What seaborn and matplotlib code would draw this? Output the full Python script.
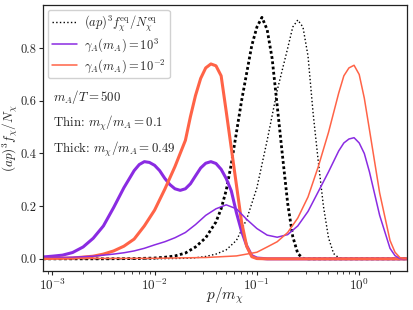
import numpy as np
import matplotlib
matplotlib.use("Agg")
import matplotlib.pyplot as plt
import seaborn as sns

# ---- data (p/m_chi, (ap)^3 f/N) ----
x_eq_thick = [0.00081, 0.00316, 0.00631, 0.01, 0.0126, 0.0158, 0.02, 0.0251, 0.0316, 0.0398, 0.0447,
              0.0501, 0.0562, 0.0631, 0.0708, 0.0794, 0.0891, 0.1, 0.112, 0.126, 0.141, 0.158,
              0.178, 0.2, 0.224, 0.251, 0.282, 0.316, 2.92]
y_eq_thick = [0.0, 0.0, 0.001, 0.003, 0.006, 0.011, 0.022, 0.045, 0.08, 0.14, 0.19,
              0.26, 0.36, 0.48, 0.60, 0.705, 0.81, 0.88, 0.917, 0.87, 0.76, 0.58,
              0.39, 0.21, 0.085, 0.02, 0.002, 0.0, 0.0]

x_eq_thin = [0.00081, 0.01, 0.02, 0.0251, 0.0316, 0.0398, 0.0501, 0.0631, 0.0794, 0.1, 0.126,
             0.158, 0.2, 0.224, 0.251, 0.282, 0.316, 0.355, 0.398, 0.447, 0.501, 0.562,
             0.631, 0.708, 2.92]
y_eq_thin = [0.0, 0.0, 0.002, 0.004, 0.009, 0.018, 0.034, 0.07, 0.15, 0.27, 0.45,
             0.64, 0.80, 0.88, 0.907, 0.88, 0.77, 0.55, 0.37, 0.20, 0.08, 0.02,
             0.004, 0.0, 0.0]

x_pur_thick = [0.00081, 0.001, 0.00126, 0.00158, 0.002, 0.00251, 0.00316, 0.00398, 0.00501,
               0.00631, 0.00708, 0.00794, 0.0089, 0.01, 0.0112, 0.0126, 0.0141, 0.0158,
               0.0178, 0.02, 0.0224, 0.0251, 0.0282, 0.0316, 0.0355, 0.0398, 0.0447, 0.0501,
               0.0562, 0.0631, 0.0708, 0.0794, 0.0891, 0.1, 0.126, 2.92]
y_pur_thick = [0.007, 0.010, 0.014, 0.024, 0.045, 0.078, 0.125, 0.195, 0.27,
               0.335, 0.358, 0.369, 0.366, 0.355, 0.335, 0.305, 0.282, 0.266,
               0.260, 0.266, 0.285, 0.315, 0.345, 0.363, 0.369, 0.362, 0.340, 0.305,
               0.258, 0.175, 0.105, 0.05, 0.012, 0.003, 0.0, 0.0]

x_red_thick = [0.00081, 0.00158, 0.00251, 0.00316, 0.00398, 0.00501, 0.00631, 0.00794, 0.01,
               0.0126, 0.0158, 0.02, 0.0224, 0.0251, 0.0282, 0.0316, 0.0355, 0.0398, 0.0447,
               0.0501, 0.0562, 0.0631, 0.0708, 0.0794, 0.0891, 0.1, 0.126, 2.92]
y_red_thick = [0.001, 0.003, 0.010, 0.018, 0.030, 0.048, 0.075, 0.125, 0.185,
               0.265, 0.35, 0.45, 0.54, 0.62, 0.685, 0.725, 0.740, 0.733, 0.695,
               0.56, 0.42, 0.28, 0.14, 0.048, 0.008, 0.001, 0.0, 0.0]

x_pur_thin = [0.00081, 0.00158, 0.00251, 0.00398, 0.00501, 0.00631, 0.00794, 0.01, 0.0126,
              0.0158, 0.02, 0.0251, 0.0316, 0.0398, 0.0501, 0.0631, 0.0794, 0.1, 0.126,
              0.158, 0.2, 0.251, 0.316, 0.398, 0.501, 0.631, 0.708, 0.794, 0.891, 1.0,
              1.122, 1.26, 1.585, 2.0, 2.239, 2.51, 2.92]
y_pur_thin = [0.003, 0.006, 0.010, 0.018, 0.023, 0.030, 0.040, 0.053, 0.065,
              0.08, 0.10, 0.13, 0.165, 0.19, 0.205, 0.19, 0.15, 0.115, 0.09,
              0.082, 0.092, 0.125, 0.18, 0.255, 0.33, 0.41, 0.44, 0.455, 0.46, 0.44,
              0.40, 0.33, 0.165, 0.04, 0.012, 0.001, 0.0]

x_red_thin = [0.00081, 0.01, 0.0316, 0.0631, 0.1, 0.126, 0.158, 0.2, 0.251, 0.316, 0.398,
              0.501, 0.631, 0.708, 0.794, 0.891, 1.0, 1.122, 1.26, 1.585, 2.0, 2.239,
              2.51, 2.92]
y_red_thin = [0.001, 0.002, 0.005, 0.011, 0.025, 0.045, 0.065, 0.10, 0.155, 0.235, 0.35,
              0.48, 0.63, 0.695, 0.725, 0.735, 0.70, 0.61, 0.49, 0.25, 0.07, 0.025,
              0.004, 0.0]

labels = [r"$(ap)^3 f_\chi^{\rm eq}/N_\chi^{\rm eq}$",
          r"$\gamma_A(m_A) = 10^3$",
          r"$\gamma_A(m_A) = 10^{-2}$"]
notes = [r"$m_A/T = 500$",
         r"Thin: $m_\chi/m_A = 0.1$",
         r"Thick: $m_\chi/m_A = 0.49$"]

# ---- style ----
sns.set_style("ticks")
plt.rcParams["font.family"] = ["cmr10", "DejaVu Serif"]
plt.rcParams["mathtext.fontset"] = "cm"
plt.rcParams["axes.formatter.use_mathtext"] = True
plt.rcParams["axes.unicode_minus"] = False

PURPLE = "#8a2be2"
RED = "#ff6347"

fig = plt.figure(figsize=(4.13, 3.10), dpi=100)
ax = fig.add_axes([0.104, 0.126, 0.881, 0.858])

sns.lineplot(x=x_eq_thick, y=y_eq_thick, ax=ax, color="black", lw=2.0,
             linestyle=(0, (1, 0.9)), estimator=None, sort=False)
sns.lineplot(x=x_eq_thin, y=y_eq_thin, ax=ax, color="black", lw=1.0,
             linestyle=":", estimator=None, sort=False)
sns.lineplot(x=x_pur_thick, y=y_pur_thick, ax=ax, color=PURPLE, lw=2.2,
             estimator=None, sort=False)
sns.lineplot(x=x_red_thick, y=y_red_thick, ax=ax, color=RED, lw=2.2,
             estimator=None, sort=False)
sns.lineplot(x=x_pur_thin, y=y_pur_thin, ax=ax, color=PURPLE, lw=1.1,
             estimator=None, sort=False)
sns.lineplot(x=x_red_thin, y=y_red_thin, ax=ax, color=RED, lw=1.1,
             estimator=None, sort=False)

ax.set_xscale("log")
ax.set_xlim(8.1e-4, 2.92)
ax.set_ylim(-0.046, 0.964)
ax.set_yticks([0.0, 0.2, 0.4, 0.6, 0.8])
ax.set_yticklabels(["0.0", "0.2", "0.4", "0.6", "0.8"])
ax.tick_params(axis="both", labelsize=9.5, length=3, width=0.8, pad=2)
ax.tick_params(axis="y", labelsize=9, pad=1.5)
ax.tick_params(axis="x", which="minor", length=1.8, width=0.6)
for s in ax.spines.values():
    s.set_linewidth(0.9)
    s.set_color("#222222")

ax.set_xlabel(r"$p/m_\chi$", fontsize=11)
ax.set_ylabel(r"$(ap)^3 f_\chi/N_\chi$", fontsize=9.5)
ax.xaxis.set_label_coords(0.5, -0.055)
ax.yaxis.set_label_coords(-0.062, 0.5)

handles = [ax.lines[1], ax.lines[4], ax.lines[5]]
ax.legend(handles, labels, loc="upper left", fontsize=9, frameon=True,
          handlelength=2.0, handletextpad=0.6, borderpad=0.3, labelspacing=0.2,
          borderaxespad=0.4, fancybox=True, edgecolor="#cccccc", framealpha=0.9)

ys = [0.654, 0.556, 0.455]
for t, yy in zip(notes, ys):
    ax.text(0.027, yy, t, transform=ax.transAxes, va="center", ha="left", fontsize=9.3)

fig.savefig("out.png", dpi=100)
